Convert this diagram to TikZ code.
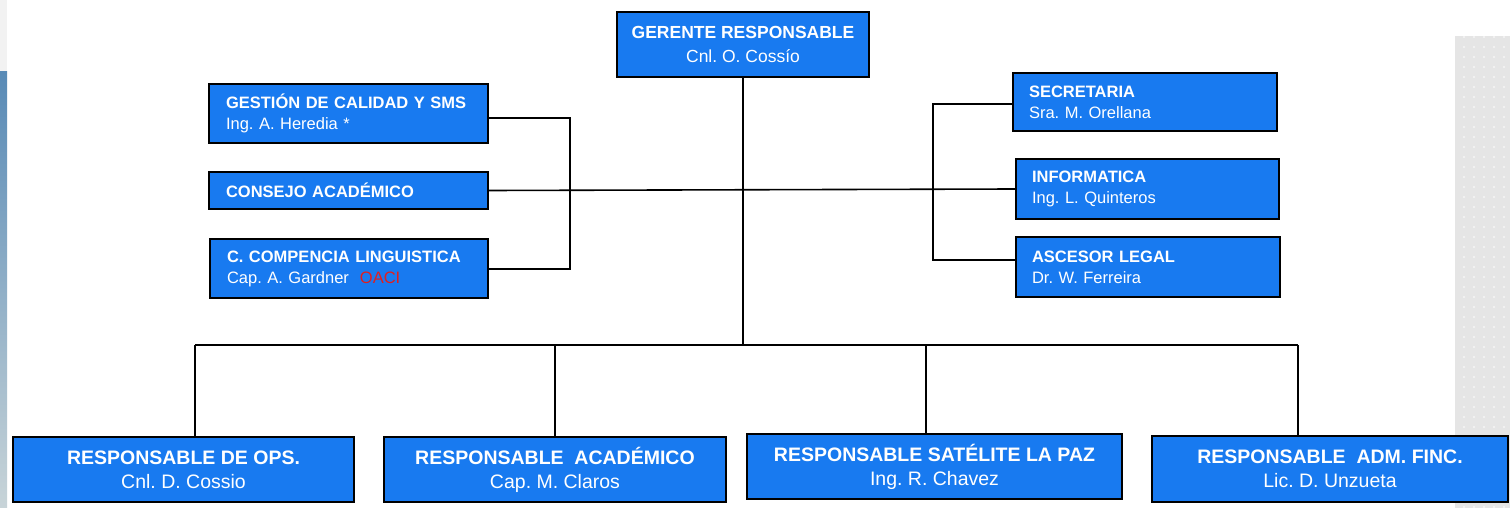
\documentclass[tikz,border=0pt]{standalone}
\usepackage{fontspec}
\setmainfont{Liberation Sans}
\usepackage{xcolor}
\usepackage{tikz}

\definecolor{boxblue}{RGB}{24,122,240}
\definecolor{oacired}{RGB}{226,30,30}
\definecolor{panelgray}{RGB}{229,229,229}

\frenchspacing

\tikzset{
    unit/.style={draw=black, line width=2.4pt, fill=boxblue, text=white, inner sep=0pt},
    topunit/.style={unit, align=left, font=\fontsize{16.5}{21}\selectfont},
    lowunit/.style={unit, align=center, font=\fontsize{19.5}{24}\selectfont},
    link/.style={black, line width=1.6pt},
}

\begin{document}
\begin{tikzpicture}[x=1pt, y=-1pt]
    \useasboundingbox (0,0) rectangle (1510,508);
    % fondo
    \fill[white] (0,0) rectangle (1510,508);
    \fill[gray!10] (0,0) rectangle (7,72);
    \shade[top color={rgb,255:red,88;green,138;blue,182}, bottom color={rgb,255:red,200;green,212;blue,216}] (0,72) rectangle (7,508);
    \fill[panelgray] (1455,36) rectangle (1510,508);
    \foreach \px in {1464,1474,...,1504}
        \foreach \py in {37,47,...,507}
            \fill[white] (\px,\py) circle (0.8);

    \node[unit, align=center, font=\fontsize{17.5}{24}\selectfont, minimum width=252pt, minimum height=65pt] (gerente) at (743,44.5) {\textbf{GERENTE RESPONSABLE}\\Cnl. O. Cossío};

    \node[topunit, minimum width=279pt, minimum height=59pt, text width=245pt] (gestion) at (348.5,113.5) {\textbf{GESTIÓN DE CALIDAD Y SMS}\\Ing. A. Heredia *};
    \node[topunit, minimum width=279pt, minimum height=37pt, text width=245pt] (consejo) at (348.5,190.5) {\textbf{CONSEJO ACADÉMICO}};
    \node[topunit, minimum width=278pt, minimum height=59pt, text width=244pt] (compencia) at (349,268.5) {\textbf{C. COMPENCIA LINGUISTICA}\\Cap. A. Gardner\ \ \textcolor{oacired}{OACI}};

    \node[topunit, minimum width=264pt, minimum height=58pt, text width=232pt] (secretaria) at (1145,102) {\textbf{SECRETARIA}\\Sra. M. Orellana};
    \node[topunit, minimum width=263pt, minimum height=60pt, text width=231pt] (informatica) at (1147.5,189) {\textbf{INFORMATICA}\\Ing. L. Quinteros};
    \node[topunit, minimum width=264pt, minimum height=60pt, text width=232pt] (ascesor) at (1148,267) {\textbf{ASCESOR LEGAL}\\Dr. W. Ferreira};

    \node[lowunit, minimum width=341pt, minimum height=65pt] (ops) at (183.5,469.5) {\textbf{RESPONSABLE DE OPS.}\\Cnl. D. Cossio};
    \node[lowunit, minimum width=342pt, minimum height=65pt] (acad) at (555,469.5) {\textbf{RESPONSABLE\ \ ACADÉMICO}\\Cap. M. Claros};
    \node[lowunit, minimum width=375pt, minimum height=65pt] (satelite) at (934.5,466.5) {\textbf{RESPONSABLE SATÉLITE LA PAZ}\\Ing. R. Chavez};
    \node[lowunit, minimum width=356pt, minimum height=66pt] (admfinc) at (1330,469) {\textbf{RESPONSABLE\ \ ADM. FINC.}\\Lic. D. Unzueta};

    \coordinate (lt) at (570,118);
    \coordinate (lb) at (570,269);
    \coordinate (rt) at (933,104);
    \coordinate (rb) at (933,260);
    \draw[link] (gestion.east |- lt) -- (lt) -- (lb) -- (compencia.east |- lb);
    \draw[link] (consejo.east) -- (informatica.west);
    \draw[link] (secretaria.west |- rt) -- (rt) -- (rb) -- (ascesor.west |- rb);

    \coordinate (b1) at (195,345);
    \coordinate (b2) at (555,345);
    \coordinate (b3) at (926,345);
    \coordinate (b4) at (1298,345);
    \draw[link] (gerente.south) -- (gerente.south |- b1);
    \draw[link, line width=2pt] (b1) -- (b4);
    \draw[link] (b1) -- (b1 |- ops.north);
    \draw[link] (b2) -- (b2 |- acad.north);
    \draw[link] (b3) -- (b3 |- satelite.north);
    \draw[link] (b4) -- (b4 |- admfinc.north);
\end{tikzpicture}
\end{document}
